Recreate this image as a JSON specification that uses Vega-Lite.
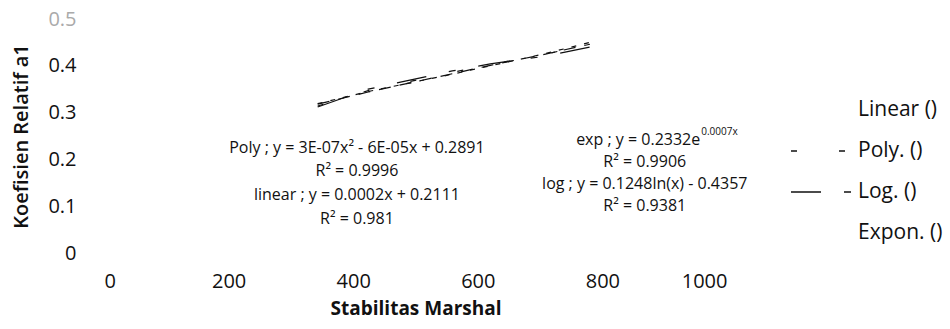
{
  "$schema": "https://vega.github.io/schema/vega-lite/v6.json",
  "width": 623,
  "height": 234,
  "autosize": {"type": "none"},
  "padding": {"left": 104, "top": 19, "right": 223, "bottom": 76},
  "background": "white",
  "config": {"view": {"stroke": null}, "font": "Open Sans", "text": {"font": "Open Sans", "color": "#111"}},
  "datasets": {
    "trend": [
      {"fit": "Linear ()", "stabilitas": 343, "a1": 0.318},
      {"fit": "Linear ()", "stabilitas": 424, "a1": 0.344},
      {"fit": "Linear ()", "stabilitas": 559, "a1": 0.383},
      {"fit": "Linear ()", "stabilitas": 620, "a1": 0.401},
      {"fit": "Linear ()", "stabilitas": 705, "a1": 0.424},
      {"fit": "Linear ()", "stabilitas": 780, "a1": 0.446},
      {"fit": "Poly. ()", "stabilitas": 343, "a1": 0.314},
      {"fit": "Poly. ()", "stabilitas": 424, "a1": 0.347},
      {"fit": "Poly. ()", "stabilitas": 559, "a1": 0.386},
      {"fit": "Poly. ()", "stabilitas": 620, "a1": 0.403},
      {"fit": "Poly. ()", "stabilitas": 705, "a1": 0.423},
      {"fit": "Poly. ()", "stabilitas": 780, "a1": 0.448},
      {"fit": "Log. ()", "stabilitas": 343, "a1": 0.312},
      {"fit": "Log. ()", "stabilitas": 424, "a1": 0.35},
      {"fit": "Log. ()", "stabilitas": 559, "a1": 0.389},
      {"fit": "Log. ()", "stabilitas": 620, "a1": 0.404},
      {"fit": "Log. ()", "stabilitas": 705, "a1": 0.42},
      {"fit": "Log. ()", "stabilitas": 780, "a1": 0.44},
      {"fit": "Expon. ()", "stabilitas": 343, "a1": 0.319},
      {"fit": "Expon. ()", "stabilitas": 424, "a1": 0.345},
      {"fit": "Expon. ()", "stabilitas": 559, "a1": 0.382},
      {"fit": "Expon. ()", "stabilitas": 620, "a1": 0.4},
      {"fit": "Expon. ()", "stabilitas": 705, "a1": 0.425},
      {"fit": "Expon. ()", "stabilitas": 780, "a1": 0.45}
    ]
  },
  "layer": [
    {
      "data": {"name": "trend"},
      "mark": {"type": "line", "color": "#111", "strokeWidth": 1.2},
      "encoding": {
        "x": {
          "field": "stabilitas", "type": "quantitative",
          "scale": {"domain": [0, 1000], "nice": false, "zero": false},
          "axis": {
            "values": [0, 200, 400, 600, 800, 1000], "format": "d",
            "domain": false, "ticks": false, "grid": false,
            "labelFontSize": 20, "labelColor": "#111", "labelPadding": 18, "labelFont": "Open Sans",
            "title": "Stabilitas Marshal", "titleFontSize": 19, "titleFontWeight": "bold",
            "titleColor": "#111", "titlePadding": 8, "titleFont": "Open Sans"
          }
        },
        "y": {
          "field": "a1", "type": "quantitative",
          "scale": {"domain": [0, 0.5], "nice": false},
          "axis": {
            "values": [0, 0.1, 0.2, 0.3, 0.4, 0.5], "format": ".1~f",
            "domain": false, "ticks": false, "grid": false,
            "labelFontSize": 20, "labelPadding": 28, "labelFont": "Open Sans",
            "labelColor": {"condition": {"test": "datum.value === 0.5", "value": "#aaaaaa"}, "value": "#111"},
            "title": "Koefisien Relatif a1", "titleFontSize": 20, "titleFontWeight": 600,
            "titleColor": "#111", "titlePadding": 16, "titleFont": "Open Sans"
          }
        },
        "strokeDash": {
          "field": "fit", "type": "nominal",
          "scale": {
            "domain": ["Linear ()", "Poly. ()", "Log. ()", "Expon. ()"],
            "range": [[12, 9], [6, 42], [30, 23, 7, 23], [5, 8]]
          },
          "legend": {
            "title": null, "orient": "none", "legendX": 686, "legendY": 60,
            "symbolType": "stroke", "symbolSize": 3600, "symbolStrokeWidth": 1.5,
            "symbolStrokeColor": "#111", "labelFontSize": 21, "labelColor": "#111",
            "labelFont": "Open Sans", "labelOffset": 6, "rowPadding": -17,
            "encode": {"symbols": {"update": {"opacity": {"signal": "datum.value === 'Poly. ()' || datum.value === 'Log. ()' ? 1 : 0"}}}}
          }
        }
      }
    },
    {
      "data": {"values": [{"eq": "Poly ; y = 3E-07x² - 6E-05x + 0.2891"}]},
      "mark": {"type": "text", "fontSize": 16},
      "encoding": {"x": {"datum": 406, "type": "quantitative"}, "y": {"datum": 0.224, "type": "quantitative"}, "text": {"field": "eq"}}
    },
    {
      "data": {"values": [{"eq": "R² = 0.9996"}]},
      "mark": {"type": "text", "fontSize": 16},
      "encoding": {"x": {"datum": 406, "type": "quantitative"}, "y": {"datum": 0.175, "type": "quantitative"}, "text": {"field": "eq"}}
    },
    {
      "data": {"values": [{"eq": "linear ; y = 0.0002x + 0.2111"}]},
      "mark": {"type": "text", "fontSize": 16},
      "encoding": {"x": {"datum": 406, "type": "quantitative"}, "y": {"datum": 0.124, "type": "quantitative"}, "text": {"field": "eq"}}
    },
    {
      "data": {"values": [{"eq": "R² = 0.981"}]},
      "mark": {"type": "text", "fontSize": 16},
      "encoding": {"x": {"datum": 406, "type": "quantitative"}, "y": {"datum": 0.073, "type": "quantitative"}, "text": {"field": "eq"}}
    },
    {
      "data": {"values": [{"eq": "exp ; y = 0.2332e"}]},
      "mark": {"type": "text", "fontSize": 16, "align": "right"},
      "encoding": {"x": {"datum": 957, "type": "quantitative"}, "y": {"datum": 0.241, "type": "quantitative"}, "text": {"field": "eq"}}
    },
    {
      "data": {"values": [{"eq": "0.0007x"}]},
      "mark": {"type": "text", "fontSize": 10, "align": "left", "dx": 1},
      "encoding": {"x": {"datum": 957, "type": "quantitative"}, "y": {"datum": 0.259, "type": "quantitative"}, "text": {"field": "eq"}}
    },
    {
      "data": {"values": [{"eq": "R² = 0.9906"}]},
      "mark": {"type": "text", "fontSize": 16},
      "encoding": {"x": {"datum": 868, "type": "quantitative"}, "y": {"datum": 0.194, "type": "quantitative"}, "text": {"field": "eq"}}
    },
    {
      "data": {"values": [{"eq": "log ; y = 0.1248ln(x) - 0.4357"}]},
      "mark": {"type": "text", "fontSize": 16},
      "encoding": {"x": {"datum": 868, "type": "quantitative"}, "y": {"datum": 0.147, "type": "quantitative"}, "text": {"field": "eq"}}
    },
    {
      "data": {"values": [{"eq": "R² = 0.9381"}]},
      "mark": {"type": "text", "fontSize": 16},
      "encoding": {"x": {"datum": 868, "type": "quantitative"}, "y": {"datum": 0.1, "type": "quantitative"}, "text": {"field": "eq"}}
    }
  ]
}
